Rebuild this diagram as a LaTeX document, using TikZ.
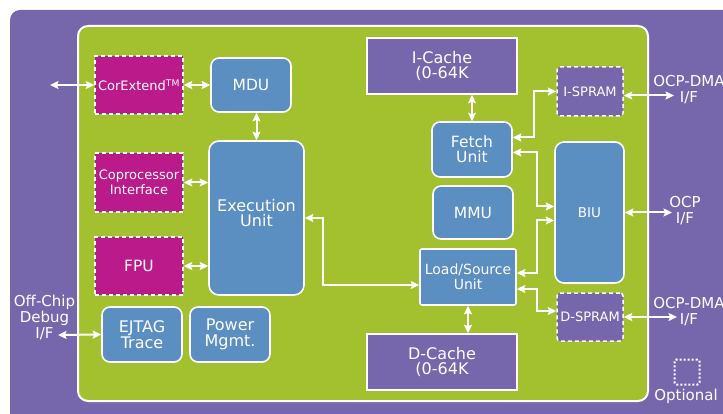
\documentclass[tikz,border=0pt]{standalone}
\usepackage{fontspec}
\setmainfont{DejaVu Sans}
\usetikzlibrary{arrows.meta}
\definecolor{corepurple}{HTML}{7667AC}
\definecolor{coregreen}{HTML}{A3C12F}
\definecolor{coreblue}{HTML}{5B8EC1}
\definecolor{coremag}{HTML}{BB1A8B}
\begin{document}
\begin{tikzpicture}[
  x=1pt, y=-1pt,
  every node/.style={text=white,align=center,inner sep=0pt,font=\fontsize{15.5}{15}\selectfont},
  cpubox/.style={draw=white,line width=1.6pt,fill=coreblue,rounded corners=8pt},
  optbox/.style={draw=white,line width=1.5pt,dash pattern=on 4pt off 3pt,fill=coremag,font=\fontsize{13}{15.5}\selectfont},
  sprambox/.style={optbox,fill=corepurple,rounded corners=3pt},
  cachebox/.style={draw=white,line width=1.6pt,fill=corepurple,font=\fontsize{16}{15}\selectfont},
  iflbl/.style={font=\fontsize{15}{16}\selectfont},
  biarrow/.style={{Stealth[length=8.5pt,width=8pt,inset=1.5pt]}-{Stealth[length=8.5pt,width=8pt,inset=1.5pt]},draw=white,line width=2pt}
]
  \useasboundingbox (0,0) rectangle (723,414);
  \fill[corepurple,rounded corners=10pt] (10,10) rectangle (760,440);
  \draw[white,line width=2pt,fill=coregreen,rounded corners=10pt] (78,26) rectangle (648,401);

  \node[optbox,minimum width=88pt,minimum height=58pt] (corext) at (139,85) {CorExtend\textsuperscript{TM}};
  \node[cpubox,minimum width=80pt,minimum height=54pt] (mdu) at (251,85) {MDU};
  \node[optbox,minimum width=88pt,minimum height=59pt] (copro) at (139,182.5) {Coprocessor\\Interface};
  \node[cpubox,rounded corners=10pt,minimum width=95pt,minimum height=154pt,font=\fontsize{16}{15.5}\selectfont] (exec) at (256.5,218) {Execution\\Unit\\[-5.5pt]};
  \node[optbox,minimum width=88pt,minimum height=58pt,font=\fontsize{15.5}{15}\selectfont] (fpu) at (139,266) {FPU};
  \node[cpubox,minimum width=80pt,minimum height=55pt,font=\fontsize{16}{15.5}\selectfont] (ejtag) at (142,334.5) {EJTAG\\Trace};
  \node[cpubox,minimum width=80pt,minimum height=55pt,font=\fontsize{16}{15.5}\selectfont] (power) at (230,334.5) {Power\\Mgmt.};

  \node[cachebox,minimum width=150pt,minimum height=56pt] (icache) at (442,66) {I-Cache\\(0-64K};
  \node[cpubox,minimum width=80pt,minimum height=55pt] (fetch) at (472,149.5) {Fetch\\Unit};
  \node[cpubox,minimum width=80pt,minimum height=53pt] (mmu) at (473,212.5) {MMU};
  \node[cpubox,rounded corners=2pt,minimum width=96pt,minimum height=56pt,font=\fontsize{14}{15}\selectfont] (lsu) at (468,277) {Load/Source\\Unit};
  \node[cachebox,minimum width=150pt,minimum height=56pt] (dcache) at (442,362) {D-Cache\\(0-64K};

  \node[sprambox,minimum width=66pt,minimum height=49pt] (ispram) at (590,91.5) {I-SPRAM};
  \node[cpubox,rounded corners=9pt,minimum width=69pt,minimum height=141pt,font=\fontsize{13.5}{15}\selectfont] (biu) at (589.5,212.5) {BIU};
  \node[sprambox,minimum width=66pt,minimum height=48pt] (dspram) at (590,317) {D-SPRAM};

  \node[iflbl] (dmaAlbl) at (689,90) {OCP-DMA\\I/F};
  \node[iflbl] (ocplbl) at (685,211) {OCP\\I/F};
  \node[iflbl] (dmaBlbl) at (689,312) {OCP-DMA\\I/F};
  \node[iflbl] (dbglbl) at (44.5,317) {Off-Chip\\Debug\\I/F};
  \node[draw=white,line width=2pt,dash pattern=on 2pt off 2pt,rounded corners=2pt,minimum size=25pt] (optkey) at (687,372) {};
  \node[iflbl] (optlbl) at (686,396) {Optional};

  \coordinate (extin) at (50,85);
  \coordinate (dbgin) at (58,335);
  \coordinate (dmaAend) at (674,95.5);
  \coordinate (ocpend) at (672,212.5);
  \coordinate (dmaBend) at (677,317);

  \draw[biarrow] (extin) -- (corext.west);
  \draw[biarrow] (corext.east) -- (mdu.west);
  \draw[biarrow] (exec.north |- mdu.south) -- (exec.north);
  \draw[biarrow] (copro.east) -- (copro.east -| exec.west);
  \draw[biarrow] (fpu.east) -- (fpu.east -| exec.west);
  \draw[biarrow] (dbgin) -- (ejtag.west);
  \draw[biarrow] (fetch.north |- icache.south) -- (fetch.north);
  \draw[biarrow] (lsu.south) -- (lsu.south |- dcache.north);
  \draw[biarrow] (exec.east) -- ++(18,0) |- ([yshift=-8pt]lsu.west);
  \draw[biarrow] (ispram.west) -- ++(-22,0) |- ([yshift=12pt]fetch.east);
  \draw[biarrow] ([yshift=-3pt]fetch.east) -- ++(24,0) |- ([yshift=6pt]biu.west);
  \draw[biarrow] ([yshift=4pt]lsu.east) -- ++(20,0) |- ([yshift=-8pt]biu.west);
  \draw[biarrow] ([yshift=-12pt]lsu.east) -- ++(20,0) |- ([yshift=6pt]dspram.west);
  \draw[biarrow] ([yshift=-4pt]ispram.east) -- (dmaAend);
  \draw[biarrow] (biu.east) -- (ocpend);
  \draw[biarrow] (dspram.east) -- (dmaBend);
\end{tikzpicture}
\end{document}
